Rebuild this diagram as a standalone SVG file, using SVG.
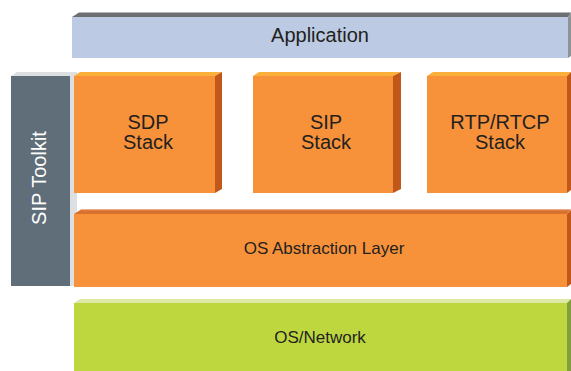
<svg xmlns="http://www.w3.org/2000/svg" width="571" height="371" viewBox="0 0 571 371">
<style>
.t{font-family:"Liberation Sans",Arial,sans-serif;fill:#231f20;text-anchor:middle}
.big{font-size:20px}
.mid{font-size:17px}
.front{fill:#f7923a}
.otop{fill:#fbb03b}
.oside{fill:#c1581a}
</style>
<rect width="571" height="371" fill="#ffffff"/>
<g id="application">
<polygon points="72,17 79,12.5 571,12.5 568,17" fill="#6d6e71"/>
<polygon points="568,17 571,12.5 571,56 568,58" fill="#8f9296"/>
<rect x="72" y="17" width="496" height="41" fill="#bccbe3"/>
<text class="t big" x="320" y="42">Application</text>
</g>
<g id="sip-toolkit">
<polygon points="11,76 17,72 77,72 70,76" fill="#dde0e3"/>
<rect x="70" y="72" width="7" height="214" fill="#dde0e3"/>
<rect x="11" y="76" width="59" height="210" fill="#5f6e79"/>
<text class="t big" x="0" y="0" style="fill:#ffffff" transform="translate(45.5,178) rotate(-90)">SIP Toolkit</text>
</g>
<g id="sdp-stack">
<polygon points="74,76 80,72 222,72 215,76" class="otop"/>
<polygon points="215,76 222,72 222,189 215,193" class="oside"/>
<rect x="74" y="76" width="141" height="117" class="front"/>
<text class="t big" x="148" y="129">SDP</text>
<text class="t big" x="148" y="149">Stack</text>
</g>
<g id="sip-stack">
<polygon points="253,76 259,72 401,72 393,76" class="otop"/>
<polygon points="393,76 401,72 401,189 393,193" class="oside"/>
<rect x="253" y="76" width="140" height="117" class="front"/>
<text class="t big" x="326" y="129">SIP</text>
<text class="t big" x="326" y="149">Stack</text>
</g>
<g id="rtp-rtcp-stack">
<polygon points="427,76 433,72 571,72 567,76" class="otop"/>
<polygon points="567,76 571,72 571,190 567,193" class="oside"/>
<rect x="427" y="76" width="140" height="117" class="front"/>
<text class="t big" x="500" y="129">RTP/RTCP</text>
<text class="t big" x="500" y="149">Stack</text>
</g>
<g id="os-abstraction-layer">
<polygon points="74,214 81,209.5 571,209.5 567,214" fill="#d9712e"/>
<line x1="81" y1="209.8" x2="571" y2="209.8" stroke="#e9a27a" stroke-width="0.8"/>
<polygon points="567,214 571,210 571,284 567,287" class="oside"/>
<rect x="74" y="214" width="493" height="73" class="front"/>
<text class="t mid" x="324" y="253.5">OS Abstraction Layer</text>
</g>
<g id="os-network">
<polygon points="74,303 80,299 571,299 567,303" fill="#dfe9a6"/>
<polygon points="567,303 571,299 571,371 567,371" fill="#7fa03c"/>
<rect x="74" y="303" width="493" height="68" fill="#bfd73f"/>
<text class="t mid" x="320" y="343">OS/Network</text>
</g>
<g id="connectors"></g>
</svg>
